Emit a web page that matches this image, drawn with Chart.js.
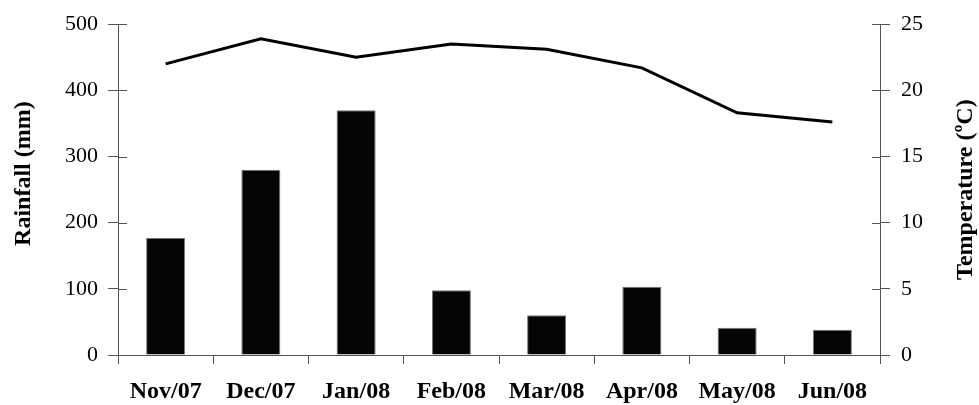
<!DOCTYPE html>
<html>
<head>
<meta charset="utf-8">
<script src="https://cdn.jsdelivr.net/npm/chart.js@4"></script>
<style>
    html, body { margin: 0; padding: 0; background: #fff; }
    #wrap { width: 979px; height: 405px; }
</style>
</head>
<body>
<div id="wrap"><canvas id="chart"></canvas></div>
<script>
const months = ['Nov/07', 'Dec/07', 'Jan/08', 'Feb/08', 'Mar/08', 'Apr/08', 'May/08', 'Jun/08']
const rainfall = [177, 280, 370, 98, 60, 103, 41, 38]
const temperature = [22.0, 23.9, 22.5, 23.5, 23.1, 21.7, 18.3, 17.6]

const serif = '"Liberation Serif", "Times New Roman", serif'
const axisColor = '#555'

// ticks in the reference cross the axis line, Chart.js only draws the outer half
const innerTicks = {
    id: 'innerTicks',
    afterDraw(chart) {
        const { ctx } = chart
        ctx.save()
        ctx.strokeStyle = axisColor
        ctx.lineWidth = 1
        for (const [id, dir, len] of [['y', 1, 9], ['y1', -1, 8]]) {
            const scale = chart.scales[id]
            const x = id === 'y' ? scale.right : scale.left
            scale.ticks.forEach(tick => {
                const y = Math.round(scale.getPixelForValue(tick.value)) + 0.5
                ctx.beginPath()
                ctx.moveTo(x, y)
                ctx.lineTo(x + dir * len, y)
                ctx.stroke()
            })
        }
        ctx.restore()
    }
}

// both axis titles read bottom to top
const axisTitles = {
    id: 'axisTitles',
    afterDraw(chart) {
        const { ctx, chartArea } = chart
        ctx.save()
        ctx.fillStyle = '#000'
        ctx.font = `bold 24px ${serif}`
        ctx.textAlign = 'center'
        ctx.textBaseline = 'middle'

        ctx.save()
        ctx.translate(24, chartArea.top + (chartArea.bottom - chartArea.top) / 2 - 16)
        ctx.rotate(-Math.PI / 2)
        ctx.fillText('Rainfall (mm)', 0, 0)
        ctx.restore()

        ctx.save()
        ctx.translate(966, chartArea.top + (chartArea.bottom - chartArea.top) / 2)
        ctx.rotate(-Math.PI / 2)
        ctx.fillText('Temperature (ºC)', 0, 0)
        ctx.restore()

        ctx.restore()
    }
}

new Chart(document.getElementById('chart'), {
    data: {
        labels: months,
        datasets: [
            {
                type: 'line',
                data: temperature,
                yAxisID: 'y1',
                borderColor: '#000',
                borderWidth: 3,
                pointRadius: 0,
                tension: 0,
                order: 0
            },
            {
                type: 'bar',
                data: rainfall,
                yAxisID: 'y',
                backgroundColor: '#050505',
                borderColor: '#777',
                borderWidth: 1,
                categoryPercentage: 1,
                barPercentage: 0.41,
                order: 1
            }
        ]
    },
    options: {
        responsive: true,
        maintainAspectRatio: false,
        animation: false,
        events: [],
        layout: { padding: { top: 24, left: 0, right: 0, bottom: 0 } },
        plugins: {
            legend: { display: false },
            tooltip: { enabled: false }
        },
        scales: {
            x: {
                offset: true,
                afterFit(scale) { scale.height = 50 },
                grid: { offset: true, drawOnChartArea: false, tickLength: 9, color: axisColor },
                border: { color: axisColor },
                ticks: {
                    color: '#000',
                    padding: 13,
                    maxRotation: 0,
                    font: { family: serif, size: 24, weight: 'bold' }
                }
            },
            y: {
                position: 'left',
                min: 0,
                max: 500,
                afterFit(scale) { scale.width = 118 },
                grid: { drawOnChartArea: false, tickLength: 10, color: axisColor },
                border: { color: axisColor },
                ticks: {
                    stepSize: 100,
                    color: '#000',
                    padding: 10,
                    font: { family: serif, size: 22 }
                }
            },
            y1: {
                position: 'right',
                min: 0,
                max: 25,
                afterFit(scale) { scale.width = 99 },
                grid: { drawOnChartArea: false, tickLength: 10, color: axisColor },
                border: { color: axisColor },
                ticks: {
                    stepSize: 5,
                    color: '#000',
                    padding: 11,
                    font: { family: serif, size: 22 }
                }
            }
        }
    },
    plugins: [innerTicks, axisTitles]
})
</script>
</body>
</html>
